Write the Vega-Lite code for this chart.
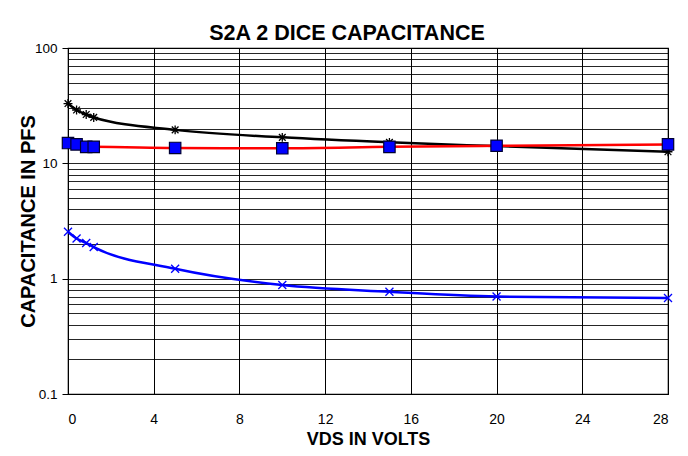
{
  "$schema": "https://vega.github.io/schema/vega-lite/v6.json",
  "width": 600,
  "height": 346,
  "autosize": {"type": "none"},
  "padding": {"left": 68, "top": 48, "right": 20, "bottom": 62},
  "background": "white",
  "title": {
    "text": "S2A 2 DICE CAPACITANCE",
    "font": "Liberation Sans",
    "fontSize": 21.5,
    "fontWeight": "bold",
    "color": "black",
    "frame": "group",
    "anchor": "middle",
    "baseline": "alphabetic",
    "offset": -20,
    "dx": -21
  },
  "data": {
    "values": [
      {"series": "A", "vds": 0, "cap": 33.0},
      {"series": "A", "vds": 0.4, "cap": 29.0},
      {"series": "A", "vds": 0.85, "cap": 26.5},
      {"series": "A", "vds": 1.2, "cap": 25.0},
      {"series": "A", "vds": 5, "cap": 19.5},
      {"series": "A", "vds": 10, "cap": 16.8},
      {"series": "A", "vds": 15, "cap": 15.2},
      {"series": "A", "vds": 20, "cap": 14.1},
      {"series": "A", "vds": 28, "cap": 12.6},
      {"series": "B", "vds": 0, "cap": 15.0},
      {"series": "B", "vds": 0.4, "cap": 14.6},
      {"series": "B", "vds": 0.85, "cap": 13.9},
      {"series": "B", "vds": 1.2, "cap": 13.9},
      {"series": "B", "vds": 5, "cap": 13.6},
      {"series": "B", "vds": 10, "cap": 13.5},
      {"series": "B", "vds": 15, "cap": 13.9},
      {"series": "B", "vds": 20, "cap": 14.2},
      {"series": "B", "vds": 28, "cap": 14.6},
      {"series": "C", "vds": 0, "cap": 2.55},
      {"series": "C", "vds": 0.4, "cap": 2.23},
      {"series": "C", "vds": 0.85, "cap": 2.04},
      {"series": "C", "vds": 1.2, "cap": 1.88},
      {"series": "C", "vds": 5, "cap": 1.22},
      {"series": "C", "vds": 10, "cap": 0.88},
      {"series": "C", "vds": 15, "cap": 0.77},
      {"series": "C", "vds": 20, "cap": 0.70},
      {"series": "C", "vds": 28, "cap": 0.68}
    ]
  },
  "encoding": {
    "x": {
      "field": "vds",
      "type": "quantitative",
      "scale": {"domain": [0, 28], "nice": false, "zero": false},
      "axis": {
        "title": "VDS IN VOLTS",
        "values": [0, 4, 8, 12, 16, 20, 24, 28],
        "grid": true,
        "gridColor": "black",
        "gridOpacity": 1,
        "gridWidth": 1,
        "ticks": false,
        "tickSize": 0,
        "domain": false,
        "labelFont": "Liberation Sans",
        "labelFontSize": 14,
        "labelColor": "black",
        "labelPadding": 18,
        "labelOverlap": false,
        "titleFont": "Liberation Sans",
        "titleFontSize": 18,
        "titleFontWeight": "bold",
        "titleColor": "black",
        "titlePadding": 4
      }
    },
    "y": {
      "field": "cap",
      "type": "quantitative",
      "scale": {"type": "log", "domain": [0.1, 100], "nice": false},
      "axis": {
        "title": "CAPACITANCE IN PFS",
        "values": [0.1, 0.2, 0.3, 0.4, 0.5, 0.6, 0.7, 0.8, 0.9, 1, 2, 3, 4, 5, 6, 7, 8, 9, 10, 20, 30, 40, 50, 60, 70, 80, 90, 100],
        "labelExpr": "datum.value == 100 ? '100' : datum.value == 10 ? '10' : datum.value == 1 ? '1' : datum.value == 0.1 ? '0.1' : ''",
        "grid": true,
        "gridColor": "black",
        "gridOpacity": 0.85,
        "gridWidth": 1,
        "tickColor": "black",
        "tickSize": 6,
        "tickOpacity": {"condition": {"test": "indexof([0.1, 1, 10, 100], datum.value) >= 0", "value": 1}, "value": 0},
        "domain": false,
        "labelFont": "Liberation Sans",
        "labelFontSize": 13.5,
        "labelColor": "black",
        "labelPadding": 5,
        "labelOverlap": false,
        "labelBound": false,
        "titleFont": "Liberation Sans",
        "titleFontSize": 20,
        "titleFontWeight": "bold",
        "titleColor": "black",
        "titlePadding": -4
      }
    }
  },
  "layer": [
    {
      "mark": {"type": "line", "interpolate": "monotone", "strokeWidth": 2.5},
      "encoding": {
        "color": {
          "field": "series",
          "type": "nominal",
          "scale": {"domain": ["A", "B", "C"], "range": ["black", "#ff0000", "#0000ff"]},
          "legend": null
        },
        "detail": {"field": "series"}
      }
    },
    {
      "transform": [{"filter": "datum.series == 'A'"}],
      "mark": {
        "type": "point",
        "shape": "M-1,0L1,0M0,-1L0,1M-0.75,-0.75L0.75,0.75M-0.75,0.75L0.75,-0.75",
        "filled": false,
        "stroke": "black",
        "strokeWidth": 1.3,
        "size": 80,
        "opacity": 1
      }
    },
    {
      "transform": [{"filter": "datum.series == 'C'"}],
      "mark": {
        "type": "point",
        "shape": "M-1,-1L1,1M-1,1L1,-1",
        "filled": false,
        "stroke": "#0000ff",
        "strokeWidth": 1.3,
        "size": 64,
        "opacity": 1
      }
    },
    {
      "transform": [{"filter": "datum.series == 'B'"}],
      "mark": {
        "type": "point",
        "shape": "square",
        "filled": true,
        "fill": "#0000ff",
        "stroke": "#000033",
        "strokeWidth": 1.2,
        "size": 130,
        "opacity": 1
      }
    }
  ],
  "config": {
    "view": {"stroke": "black", "strokeWidth": 1.2}
  }
}
